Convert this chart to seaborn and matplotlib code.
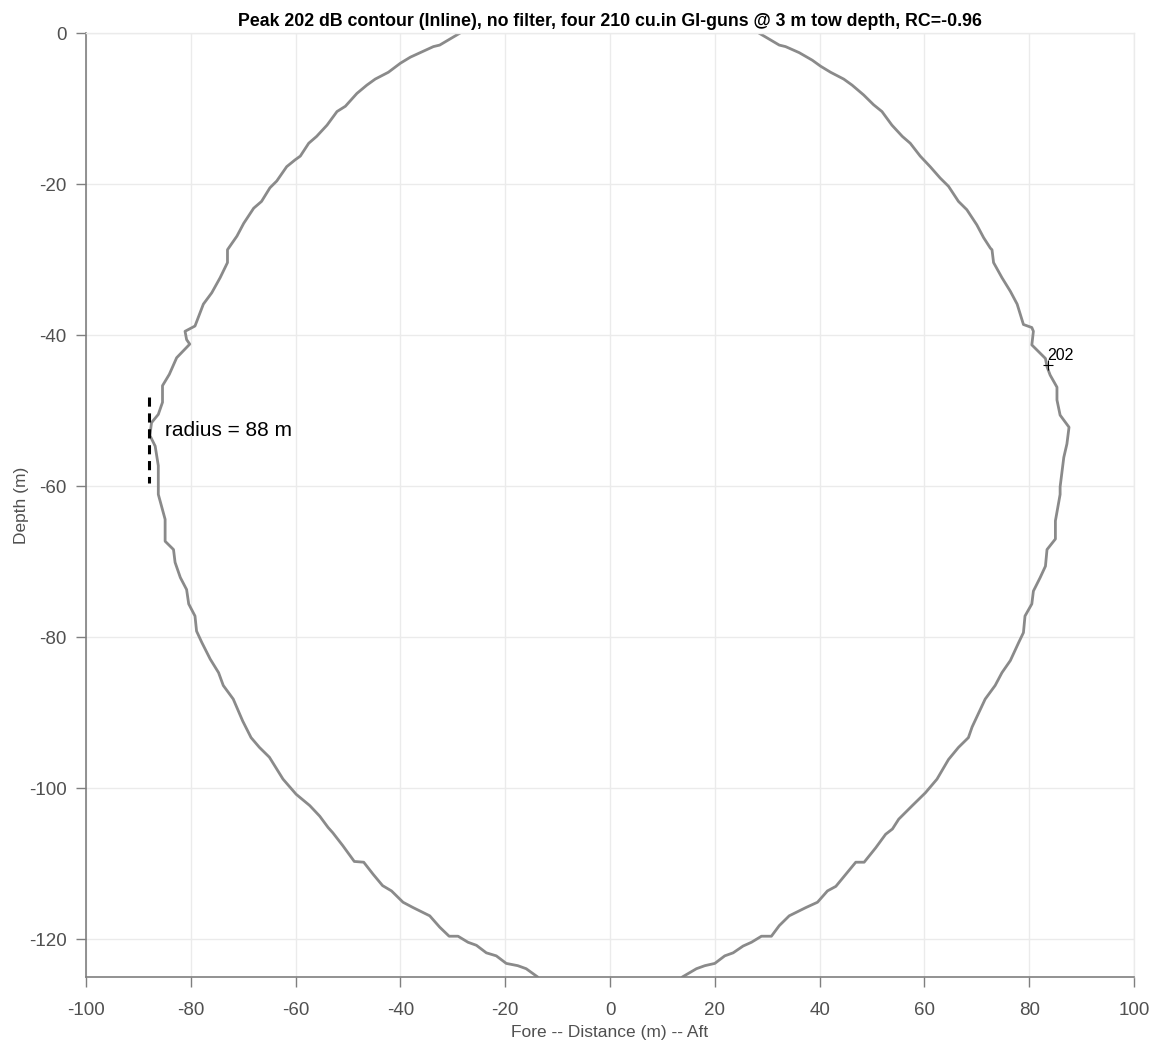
import numpy as np
import pandas as pd
import matplotlib
matplotlib.use("Agg")
import matplotlib.pyplot as plt
import seaborn as sns

# ---- data ----
left_x = [-28.6, -32.5, -33.7, -35.9, -38.1, -40.0, -42.3, -44.8, -46.4, -48.3,
          -50.5, -52.1, -54.0, -56.0, -57.5, -59.1, -60.1, -61.7, -62.3, -63.6,
          -64.9, -66.5, -68.0, -69.9, -71.2, -72.5, -73.0, -73.0, -74.4, -76.0,
          -77.6, -79.2, -81.1, -80.8, -80.2, -82.7, -84.1, -85.4, -85.4, -86.2,
          -87.5, -87.8, -86.8, -86.2, -86.2, -86.2, -84.9, -84.9, -83.3, -83.0,
          -82.0, -80.8, -80.4, -79.2, -78.9, -77.9, -76.3, -74.7, -73.8, -71.9,
          -70.1, -68.5, -66.9, -65.0, -62.4, -59.9, -57.3, -55.4, -53.8, -52.9,
          -51.0, -48.8, -47.0, -45.2, -43.4, -41.7, -39.5, -37.6, -34.4, -32.5,
          -30.7, -29.0, -27.1, -25.5, -23.6, -21.7, -19.8, -17.6, -16.0, -13.8]
left_y = [0.0, -1.6, -1.8, -2.5, -3.2, -4.0, -5.2, -6.1, -6.9, -8.0,
          -9.7, -10.4, -12.2, -13.7, -14.6, -16.3, -16.8, -17.7, -18.3, -19.6,
          -20.5, -22.3, -23.2, -25.2, -26.9, -28.2, -28.7, -30.4, -32.4, -34.4,
          -35.9, -38.8, -39.5, -40.6, -41.2, -43.0, -45.2, -46.7, -48.9, -50.5,
          -51.6, -53.3, -54.7, -57.3, -60.4, -61.1, -64.4, -67.3, -68.4, -70.1,
          -72.1, -73.7, -75.6, -77.2, -79.2, -80.7, -82.9, -84.7, -86.4, -88.2,
          -91.1, -93.3, -94.6, -95.9, -98.8, -100.8, -102.3, -103.7, -105.2, -105.9,
          -107.6, -109.7, -109.8, -111.4, -112.9, -113.6, -115.1, -115.8, -116.9, -118.4,
          -119.6, -119.6, -120.4, -120.8, -121.8, -122.2, -123.2, -123.5, -123.9, -125.0]

right_x = [28.4, 32.3, 33.5, 36.1, 38.6, 40.2, 42.1, 44.6, 46.2, 48.4,
           50.3, 51.9, 53.8, 55.8, 57.3, 59.2, 61.1, 63.0, 64.6, 66.5,
           68.1, 70.0, 71.3, 72.6, 72.9, 73.2, 74.8, 76.4, 77.7, 78.9,
           80.5, 80.8, 80.5, 81.8, 83.1, 83.4, 84.0, 85.3, 85.3, 85.9,
           87.6, 87.2, 86.6, 85.9, 85.9, 85.0, 85.0, 83.4, 83.1, 82.1,
           80.8, 80.5, 79.2, 78.9, 78.0, 76.4, 74.8, 73.5, 71.6, 69.1,
           68.4, 66.5, 64.6, 62.4, 60.2, 57.7, 55.1, 53.9, 52.6, 50.7,
           48.5, 46.9, 45.0, 43.1, 41.5, 39.6, 37.4, 34.2, 32.3, 30.8,
           28.9, 27.0, 25.4, 23.5, 21.9, 20.0, 18.1, 16.5, 13.8]
right_y = [0.0, -1.6, -1.8, -2.6, -3.6, -4.4, -5.2, -6.1, -6.9, -8.2,
           -9.5, -10.4, -12.2, -13.7, -14.6, -16.3, -17.7, -19.2, -20.3, -22.3,
           -23.4, -25.4, -27.1, -28.5, -28.7, -30.4, -32.4, -34.2, -35.9, -38.6,
           -39.0, -39.5, -41.3, -42.2, -43.1, -44.2, -45.3, -46.9, -48.6, -50.6,
           -52.2, -54.4, -56.2, -60.1, -61.1, -64.6, -67.0, -68.4, -70.6, -72.1,
           -73.9, -75.6, -77.2, -79.4, -80.7, -83.1, -84.7, -86.4, -88.2, -91.9,
           -93.3, -94.6, -96.2, -98.8, -100.6, -102.3, -104.1, -105.4, -106.1, -107.9,
           -109.8, -109.8, -111.4, -113.0, -113.6, -115.1, -115.8, -116.9, -118.2, -119.6,
           -119.6, -120.4, -120.9, -121.8, -122.2, -123.2, -123.5, -123.9, -125.0]

radius_x = [-88.0, -88.0]
radius_y = [-48.2, -59.6]
radius_text = "radius = 88 m"
label_pos = (-84.9, -52.6)

level_label = "202"
level_point = (83.6, -44.0)

x_ticks = [-100, -80, -60, -40, -20, 0, 20, 40, 60, 80, 100]
y_ticks = [0, -20, -40, -60, -80, -100, -120]

title = "Peak 202 dB contour (Inline), no filter, four 210 cu.in GI-guns @ 3 m tow depth, RC=-0.96"
xlabel = "Fore -- Distance (m) -- Aft"
ylabel = "Depth (m)"

# ---- plotting ----
sns.set_theme(style="whitegrid")
plt.rcParams['font.family'] = ['Liberation Sans', 'DejaVu Sans']
plt.rcParams['axes.unicode_minus'] = False
plt.rcParams['xtick.bottom'] = True
plt.rcParams['ytick.left'] = True
plt.rcParams['xtick.major.size'] = 7
plt.rcParams['ytick.major.size'] = 7

fig = plt.figure(figsize=(11.58, 10.44), dpi=100)
ax = fig.add_axes([86/1158, 1-977/1044, (1134-86)/1158, (977-33)/1044])

df_l = pd.DataFrame({"x": left_x, "y": left_y})
df_r = pd.DataFrame({"x": right_x, "y": right_y})
line_col = "#8a8a8a"
sns.lineplot(data=df_l, x="x", y="y", sort=False, estimator=None, ax=ax,
             color=line_col, linewidth=2.0)
sns.lineplot(data=df_r, x="x", y="y", sort=False, estimator=None, ax=ax,
             color=line_col, linewidth=2.0)

ax.plot(radius_x, radius_y, color="black", linestyle=(0, (3, 2.2)), linewidth=2.2)
ax.text(label_pos[0], label_pos[1], radius_text, fontsize=15, color="black",
        ha="left", va="center")

ax.plot([level_point[0]], [level_point[1]], marker="+", color="black",
        markersize=7, markeredgewidth=0.8)
ax.text(level_point[0] - 0.1, level_point[1] + 0.3, level_label, fontsize=11.5,
        color="black", ha="left", va="bottom")

ax.set_xlim(-100, 100)
ax.set_ylim(-125, 0)
ax.set_xticks(x_ticks)
ax.set_yticks(y_ticks)

tick_col = "#505050"
ax.tick_params(axis="both", which="major", direction="out", length=7, width=1.0,
               color="#7f7f7f", labelsize=13.5, labelcolor=tick_col,
               bottom=True, left=True, top=False, right=False)
ax.tick_params(axis="x", pad=11)
ax.tick_params(axis="y", pad=7)
ax.grid(True, color="#ebebeb", linewidth=1.0)

for s in ["left", "bottom"]:
    ax.spines[s].set_color("#7f7f7f")
    ax.spines[s].set_linewidth(1.2)
for s in ["top", "right"]:
    ax.spines[s].set_color("#ebebeb")
    ax.spines[s].set_linewidth(1.0)

ax.set_xlabel(xlabel, fontsize=12.5, color=tick_col, labelpad=4)
ax.set_ylabel(ylabel, fontsize=12.5, color=tick_col, labelpad=0)
ax.set_title(title, fontsize=12.8, fontweight="bold", color="black", pad=5)

fig.savefig("out.png", dpi=100)
